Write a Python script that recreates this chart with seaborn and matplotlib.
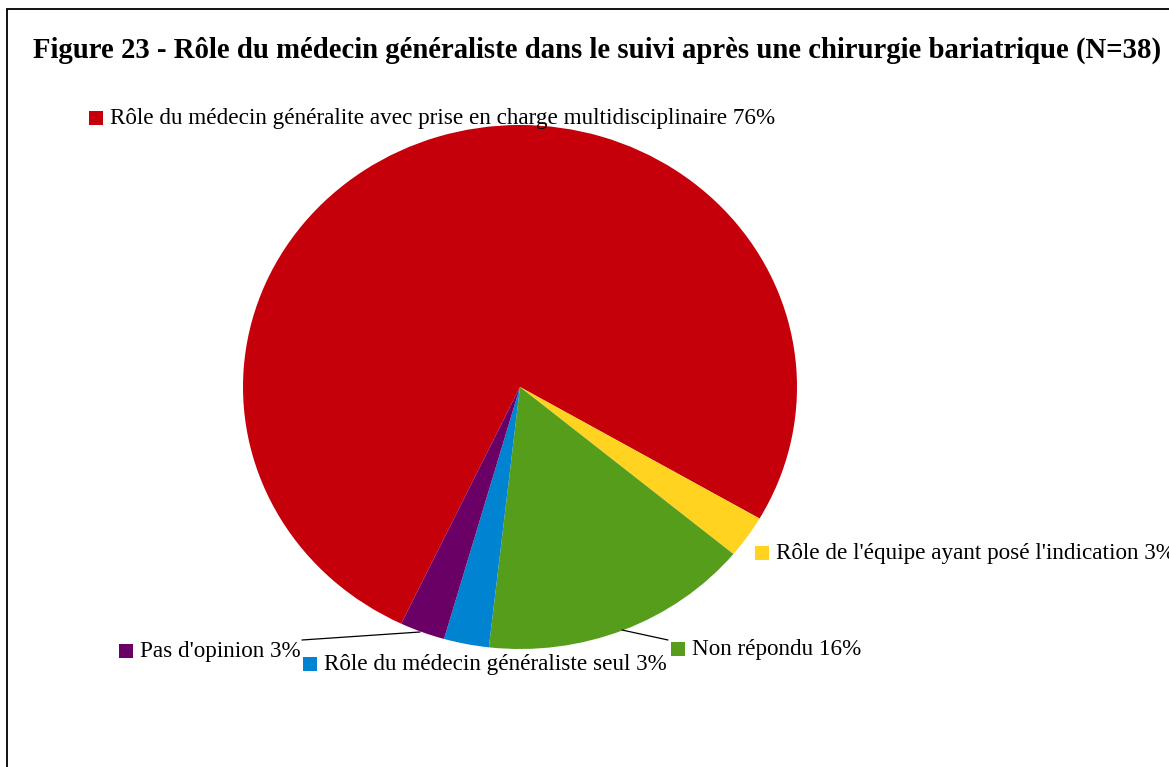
import matplotlib
matplotlib.use("Agg")
import matplotlib.pyplot as plt
import seaborn as sns
from matplotlib.patches import Rectangle
from matplotlib.lines import Line2D

# data
categories = [
    "Rôle du médecin généralite avec prise en charge multidisciplinaire",
    "Rôle de l'équipe ayant posé l'indication",
    "Non répondu",
    "Rôle du médecin généraliste seul",
    "Pas d'opinion",
]
counts = [29, 1, 6, 1, 1]
colors = ["#C5000B", "#FFD320", "#579D1C", "#0084D1", "#6A0066"]

sns.set_theme(style="white")
plt.rcParams["font.family"] = ["Liberation Serif", "DejaVu Serif"]
plt.rcParams["text.color"] = "black"

W, H = 1169, 767
fig = plt.figure(figsize=(W / 100, H / 100), dpi=100)

def fx(px):
    return px / W

def fy(py):
    return 1 - py / H

# pie axes: centre (520, 387) px, slightly wider than tall like the reference
cx, cy, rx, ry = 520, 387, 277, 262
ax = fig.add_axes([fx(cx - rx), fy(cy + ry), 2 * rx / W, 2 * ry / H])
ax.pie(counts, colors=colors, startangle=-115.4, counterclock=False,
       wedgeprops=dict(linewidth=0))
ax.set_xlim(-1, 1)
ax.set_ylim(-1, 1)
ax.set_aspect("auto")
ax.axis("off")

# outer frame (cut off on right and bottom like the reference)
fig.patches.append(Rectangle((fx(7), -0.1), 1.2, fy(9) + 0.1, transform=fig.transFigure,
                             fill=False, edgecolor="black", linewidth=1.3))

fig.text(fx(33), fy(58), "Figure 23 - Rôle du médecin généraliste dans le suivi après une chirurgie bariatrique (N=38)",
         fontsize=20.7, fontweight="bold", va="baseline", ha="left")

total = sum(counts)
pct = [round(100 * c / total) for c in counts]

# label layout (square left edge x, text baseline y) in pixels
label_pos = [(89, 124), (755, 559), (671, 655), (303, 670), (119, 657)]
sq = 14
for (lx, ly), cat, p, col in zip(label_pos, categories, pct, colors):
    fig.patches.append(Rectangle((fx(lx), fy(ly + 1)), sq / W, sq / H,
                                 transform=fig.transFigure, facecolor=col, edgecolor="none"))
    fig.text(fx(lx + sq + 7), fy(ly), f"{cat} {p}%", fontsize=16.7, va="baseline", ha="left")

# leader lines
for (x0, y0), (x1, y1) in [((622, 630), (668, 640)), ((302, 640), (420, 632))]:
    fig.lines.append(Line2D([fx(x0), fx(x1)], [fy(y0), fy(y1)], transform=fig.transFigure,
                            color="black", linewidth=0.9))

fig.savefig("out.png", dpi=100)
